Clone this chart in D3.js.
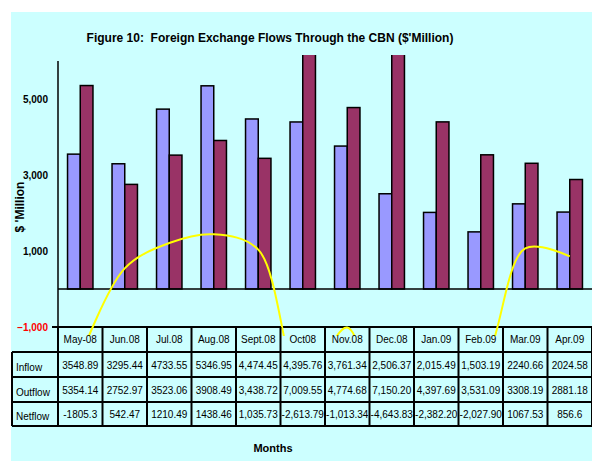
<!DOCTYPE html>
<html>
<head>
<meta charset="utf-8">
<script src="https://cdn.jsdelivr.net/npm/d3@7"></script>
<style>
  body { margin: 0; background: #fff; }
  svg { display: block; font-family: "Liberation Sans", Arial, sans-serif; }
</style>
</head>
<body>
<div id="chart"></div>
<script>
const months = ["May-08", "Jun.08", "Jul.08", "Aug.08", "Sept.08", "Oct08", "Nov.08", "Dec.08", "Jan.09", "Feb.09", "Mar.09", "Apr.09"];
const inflow = [3548.89, 3295.44, 4733.55, 5346.95, 4474.45, 4395.76, 3761.34, 2506.37, 2015.49, 1503.19, 2240.66, 2024.58];
const outflow = [5354.14, 2752.97, 3523.06, 3908.49, 3438.72, 7009.55, 4774.68, 7150.20, 4397.69, 3531.09, 3308.19, 2881.18];
const netflow = [-1805.3, 542.47, 1210.49, 1438.46, 1035.73, -2613.79, -1013.34, -4643.83, -2382.20, -2027.90, 1067.53, 856.6];

// table cells as printed in the chart
const inflowText = ["3548.89", "3295.44", "4733.55", "5346.95", "4,474.45", "4,395.76", "3,761.34", "2,506.37", "2,015.49", "1,503.19", "2240.66", "2024.58"];
const outflowText = ["5354.14", "2752.97", "3523.06", "3908.49", "3,438.72", "7,009.55", "4,774.68", "7,150.20", "4,397.69", "3,531.09", "3308.19", "2881.18"];
const netflowText = ["-1805.3", "542.47", "1210.49", "1438.46", "1,035.73", "-2,613.79", "-1,013.34", "-4,643.83", "-2,382.20", "-2,027.90", "1067.53", "856.6"];
const rowNames = ["Inflow", "Outflow", "Netflow"];
const yTicks = [-1000, 1000, 3000, 5000];

const width = 592, height = 461;
const plotLeft = 58, plotRight = 592, plotTop = 61, plotBottom = 327;

const svg = d3.select("#chart").append("svg")
  .attr("width", width)
  .attr("height", height);

svg.append("rect")
  .attr("x", 11).attr("y", 12)
  .attr("width", width - 11).attr("height", height - 12)
  .attr("fill", "#CCFFFF");

const defs = svg.append("defs");
defs.append("clipPath").attr("id", "barClip")
  .append("rect").attr("x", plotLeft).attr("y", 55).attr("width", plotRight - plotLeft).attr("height", plotBottom - 55);
defs.append("clipPath").attr("id", "lineClip")
  .append("rect").attr("x", plotLeft).attr("y", 55).attr("width", plotRight - plotLeft).attr("height", 336 - 55);

const x = d3.scaleBand().domain(months).range([plotLeft, plotRight]);
const xs = d3.scaleBand().domain(["in", "out"]).range([0, x.bandwidth()]).paddingOuter(0.75);
const y = d3.scaleLinear().domain([-1000, 6000]).range([plotBottom, plotTop]);

// title
svg.append("text")
  .attr("x", 270).attr("y", 42)
  .attr("text-anchor", "middle")
  .style("font-size", "12px")
  .style("font-weight", "bold")
  .attr("fill", "#000")
  .attr("xml:space", "preserve")
  .text("Figure 10:  Foreign Exchange Flows Through the CBN ($'Million)");

// bars
const bars = svg.append("g").attr("clip-path", "url(#barClip)");
const series = [
  { key: "in", values: inflow, color: "#9999FF" },
  { key: "out", values: outflow, color: "#993366" }
];
series.forEach(s => {
  bars.selectAll(null)
    .data(s.values)
    .enter().append("rect")
    .attr("x", (d, i) => x(months[i]) + xs(s.key))
    .attr("width", xs.bandwidth())
    .attr("y", d => y(Math.max(0, d)))
    .attr("height", d => Math.abs(y(d) - y(0)))
    .attr("fill", s.color)
    .attr("stroke", "#000")
    .attr("stroke-width", 1.5);
});

// zero line
svg.append("line")
  .attr("x1", plotLeft).attr("x2", plotRight)
  .attr("y1", y(0)).attr("y2", y(0))
  .attr("stroke", "#000").attr("stroke-width", 1.5);

// y axis
svg.append("line")
  .attr("x1", plotLeft).attr("x2", plotLeft)
  .attr("y1", plotTop).attr("y2", 352)
  .attr("stroke", "#000").attr("stroke-width", 1.5);
svg.append("line")
  .attr("x1", plotLeft - 6).attr("x2", plotRight)
  .attr("y1", y(-1000)).attr("y2", y(-1000))
  .attr("stroke", "#000").attr("stroke-width", 2);

svg.selectAll(".ytick")
  .data(yTicks)
  .enter().append("text")
  .attr("x", 48)
  .attr("y", d => y(d))
  .attr("dy", "0.36em")
  .attr("text-anchor", "end")
  .style("font-size", "10px")
  .style("font-weight", "bold")
  .attr("fill", d => d < 0 ? "#FF0000" : "#000")
  .text(d => d3.format(",")(d));

svg.append("text")
  .attr("transform", "translate(24,207) rotate(-90)")
  .attr("text-anchor", "middle")
  .style("font-size", "12px")
  .style("font-weight", "bold")
  .text("$ 'Million");

// net flow line
const line = d3.line()
  .x((d, i) => x(months[i]) + x.bandwidth() / 2)
  .y(d => y(d))
  .curve(d3.curveCatmullRom);

svg.append("path")
  .datum(netflow)
  .attr("clip-path", "url(#lineClip)")
  .attr("d", line)
  .attr("fill", "none")
  .attr("stroke", "#FFFF00")
  .attr("stroke-width", 2);

// month row of the data table
const rowTops = [327, 352, 377, 402, 426];
svg.selectAll(".mlabel")
  .data(months)
  .enter().append("text")
  .attr("x", d => x(d) + x.bandwidth() / 2)
  .attr("y", 343)
  .attr("text-anchor", "middle")
  .style("font-size", "10px")
  .attr("fill", "#000")
  .text(d => d);

// table rows
const rowsText = [inflowText, outflowText, netflowText];
rowsText.forEach((texts, r) => {
  const yc = (rowTops[r + 1] + rowTops[r + 2]) / 2;
  svg.append("text")
    .attr("x", 16).attr("y", yc + 6)
    .style("font-size", "10px")
    .text(rowNames[r]);
  svg.selectAll(null)
    .data(texts)
    .enter().append("text")
    .attr("x", (d, i) => x(months[i]) + x.bandwidth() / 2)
    .attr("y", yc + 4)
    .attr("text-anchor", "middle")
    .style("font-size", "10px")
    .text(d => d);
});

// table grid
const grid = svg.append("g").attr("stroke", "#000").attr("stroke-width", 2);
rowTops.slice(1).forEach(ty => {
  grid.append("line").attr("x1", 12).attr("x2", plotRight).attr("y1", ty).attr("y2", ty);
});
grid.append("line").attr("x1", 12).attr("x2", 12).attr("y1", 352).attr("y2", 426);
grid.append("line").attr("x1", plotLeft).attr("x2", plotLeft).attr("y1", 327).attr("y2", 426);
months.forEach(m => {
  const bx = x(m) + x.bandwidth();
  grid.append("line").attr("x1", bx).attr("x2", bx).attr("y1", 327).attr("y2", 426);
});

svg.append("text")
  .attr("x", 273).attr("y", 452)
  .attr("text-anchor", "middle")
  .style("font-size", "11px")
  .style("font-weight", "bold")
  .text("Months");
</script>
</body>
</html>
